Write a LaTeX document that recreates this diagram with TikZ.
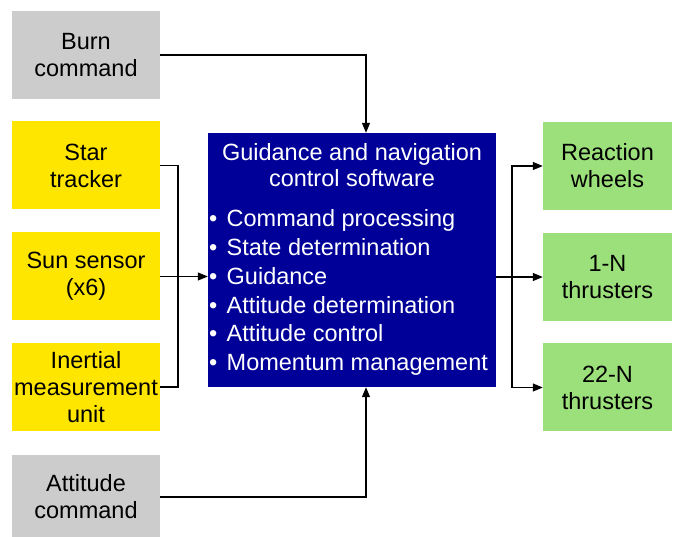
\documentclass[tikz,border=0pt]{standalone}
\usepackage{fontspec}
\setmainfont{Liberation Sans}
\usetikzlibrary{arrows.meta}
\definecolor{boxgray}{HTML}{CCCCCC}
\definecolor{boxyellow}{HTML}{FFE600}
\definecolor{boxgreen}{HTML}{9CE07C}
\definecolor{boxblue}{HTML}{000099}
\tikzset{
  box/.style={inner sep=0pt, draw=none, align=center, text=black,
    font=\fontsize{23.5}{27}\selectfont},
  leftbox/.style={box, minimum width=148pt, minimum height=88pt},
  rightbox/.style={box, minimum width=129pt, minimum height=88pt, fill=boxgreen},
  bluetext/.style={inner sep=0pt, text=white, font=\fontsize{23.5}{27}\selectfont},
  conn/.style={line width=1.2pt, black},
  arr/.style={conn, -{Triangle[length=10pt,width=8pt]}}
}
\begin{document}
\begin{tikzpicture}[x=1pt,y=-1pt]
\useasboundingbox (0,0) rectangle (678,537);
% left boxes
\node[leftbox, fill=boxgray]   (burn) at (86,55)    {Burn\\command};
\node[leftbox, fill=boxyellow] (star) at (86,165.5) {Star\\tracker};
\node[leftbox, fill=boxyellow] (sun)  at (86,276.5) {Sun sensor\\(x6)};
\node[leftbox, fill=boxyellow] (imu)  at (86,387)   {Inertial\\measurement\\unit};
\node[leftbox, fill=boxgray, minimum height=84pt] (att) at (86,497) {Attitude\\command};
% right boxes
\node[rightbox] (rw)  at (607.5,166) {Reaction\\wheels};
\node[rightbox] (t1)  at (607.5,277) {1-N\\thrusters};
\node[rightbox] (t22) at (607.5,387.5) {22-N\\thrusters};
% central box
\node[fill=boxblue, minimum width=288pt, minimum height=254pt, inner sep=0pt] (gnc) at (352,260) {};
\node[bluetext, anchor=base] (t1a) at (352,161) {Guidance and navigation};
\node[bluetext, anchor=base] (t1b) at (352,186.7) {control software};
\node[bluetext, anchor=base west] (b1) at (209,227)   {\makebox[17.5pt][l]{•}Command processing};
\node[bluetext, anchor=base west] (b2) at (209,255.7) {\makebox[17.5pt][l]{•}State determination};
\node[bluetext, anchor=base west] (b3) at (209,284.4) {\makebox[17.5pt][l]{•}Guidance};
\node[bluetext, anchor=base west] (b4) at (209,313.1) {\makebox[17.5pt][l]{•}Attitude determination};
\node[bluetext, anchor=base west] (b5) at (209,341.8) {\makebox[17.5pt][l]{•}Attitude control};
\node[bluetext, anchor=base west] (b6) at (209,370.5) {\makebox[17.5pt][l]{•}Momentum management};
% helper coordinates
\coordinate (cx) at (366,0);
\coordinate (jl) at (178,277);
\coordinate (jr) at (512,277);
% connectors
\draw[arr] (burn.east) -| (cx |- gnc.north);
\draw[arr] (att.east) -| (cx |- gnc.south);
\draw[conn] (star.east) -| (jl) |- (imu.east);
\draw[arr] (sun.east) -- (gnc.west |- sun.east);
\draw[conn] (gnc.east |- t1.west) -- (jr);
\draw[arr] (jr) |- (rw.west);
\draw[arr] (jr) -- (t1.west);
\draw[arr] (jr) |- (t22.west);
\end{tikzpicture}
\end{document}
